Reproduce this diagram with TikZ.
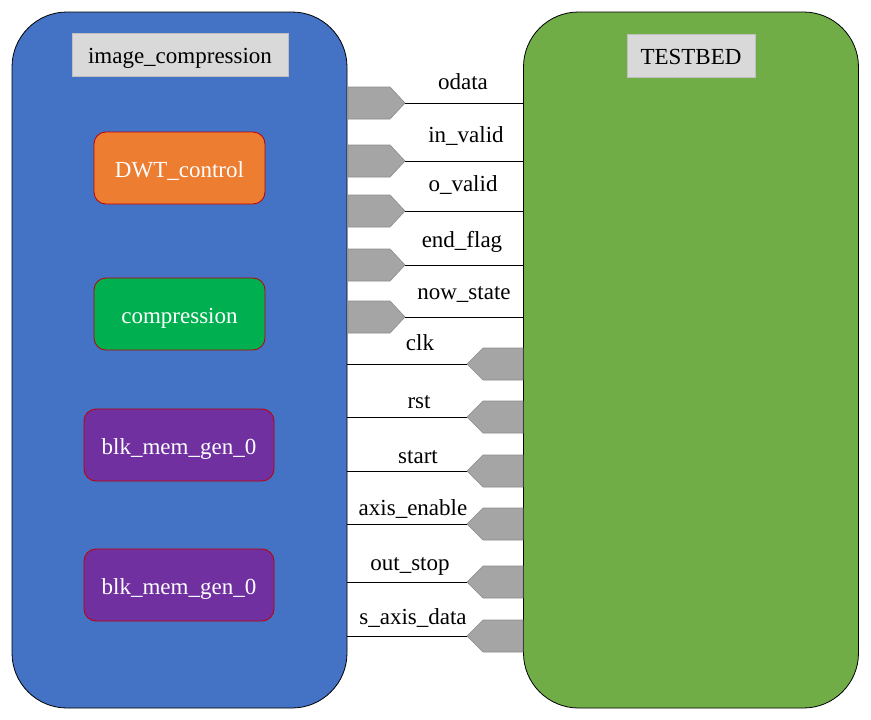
\documentclass[tikz,border=0pt]{standalone}
\usepackage{fontspec}
\setmainfont{Liberation Serif}
\newfontfamily\tnrfont{Liberation Serif}
\definecolor{bluebox}{HTML}{4472C4}
\definecolor{greenbox}{HTML}{70AD47}
\definecolor{titlegray}{HTML}{D9D9D9}
\definecolor{titleedge}{HTML}{BFBFBF}
\definecolor{orangemod}{HTML}{ED7D31}
\definecolor{greenmod}{HTML}{00B050}
\definecolor{purplemod}{HTML}{7030A0}
\definecolor{modedge}{HTML}{C00000}
\definecolor{portfill}{HTML}{A5A5A5}
\definecolor{portedge}{HTML}{8C8C8C}
\begin{document}
\begin{tikzpicture}[x=1pt,y=-1pt,
  bigbox/.style={draw=black, line width=0.8pt, rounded corners=55pt, minimum width=335pt, minimum height=696pt, inner sep=0pt},
  titlebox/.style={fill=titlegray, draw=titleedge, line width=0.8pt, font=\tnrfont\fontsize{23}{27}\selectfont, text=black, inner sep=0pt, text height=20pt, text depth=2pt},
  modbox/.style={draw=modedge, line width=0.8pt, rounded corners=12pt, minimum height=72pt, inner sep=0pt, text=white, font=\tnrfont\fontsize{23}{27}\selectfont, text height=20pt, text depth=2pt},
  portshape/.style={fill=portfill, draw=portedge, line width=0.6pt},
  wire/.style={draw=black, line width=0.9pt},
  lbl/.style={font=\tnrfont\fontsize{23}{27}\selectfont, text=black, inner sep=0pt, anchor=base}
]
\useasboundingbox (0,0) rectangle (871,720);
\fill[white] (0,0) rectangle (871,720);

\node[bigbox, fill=bluebox] (imgc) at (179.5,360) {};
\node[bigbox, fill=greenbox] (testbed) at (691,360) {};

\node[titlebox, minimum width=216pt, minimum height=43pt] (imgctitle) at (180,54.5) {image\_compression};
\node[titlebox, minimum width=128pt, minimum height=43pt] (tbtitle) at (691,55.5) {TESTBED};

\node[modbox, fill=orangemod, minimum width=171pt] (dwt) at (179.5,168) {DWT\_control};
\node[modbox, fill=greenmod, minimum width=171pt] (comp) at (179.5,314) {compression};
\node[modbox, fill=purplemod, minimum width=190pt] (mema) at (179,445) {blk\_mem\_gen\_0};
\node[modbox, fill=purplemod, minimum width=190pt] (memb) at (179,585) {blk\_mem\_gen\_0};

% output ports (image_compression -> TESTBED)
\foreach \n/\y/\t/\lx/\ly in {odata/103/odata/463/89, invalid/161/in\_valid/466/142, ovalid/211/o\_valid/463/191, endflag/265/end\_flag/462/247, nowstate/317/now\_state/464/299}{
  \filldraw[portshape] (348,{\y-16}) -- (390,{\y-16}) -- (405,\y) -- (390,{\y+16}) -- (348,{\y+16}) -- cycle;
  \coordinate (\n-tip) at (405,\y);
  \draw[wire] (\n-tip) -- (\n-tip -| testbed.west);
  \node[lbl] (\n-lbl) at (\lx,\ly) {\t};
}

% input ports (TESTBED -> image_compression)
\foreach \n/\y/\t/\lx/\ly in {clk/364/clk/420/350, rst/417/rst/419/408, start/471/start/418/463, axisenable/524/axis\_enable/413/515, outstop/582/out\_stop/410/570, saxisdata/636/s\_axis\_data/413/624}{
  \filldraw[portshape] (523,{\y-16}) -- (483,{\y-16}) -- (467,\y) -- (483,{\y+16}) -- (523,{\y+16}) -- cycle;
  \coordinate (\n-tip) at (467,\y);
  \draw[wire] (\n-tip) -- (\n-tip -| imgc.east);
  \node[lbl] (\n-lbl) at (\lx,\ly) {\t};
}
\end{tikzpicture}
\end{document}
